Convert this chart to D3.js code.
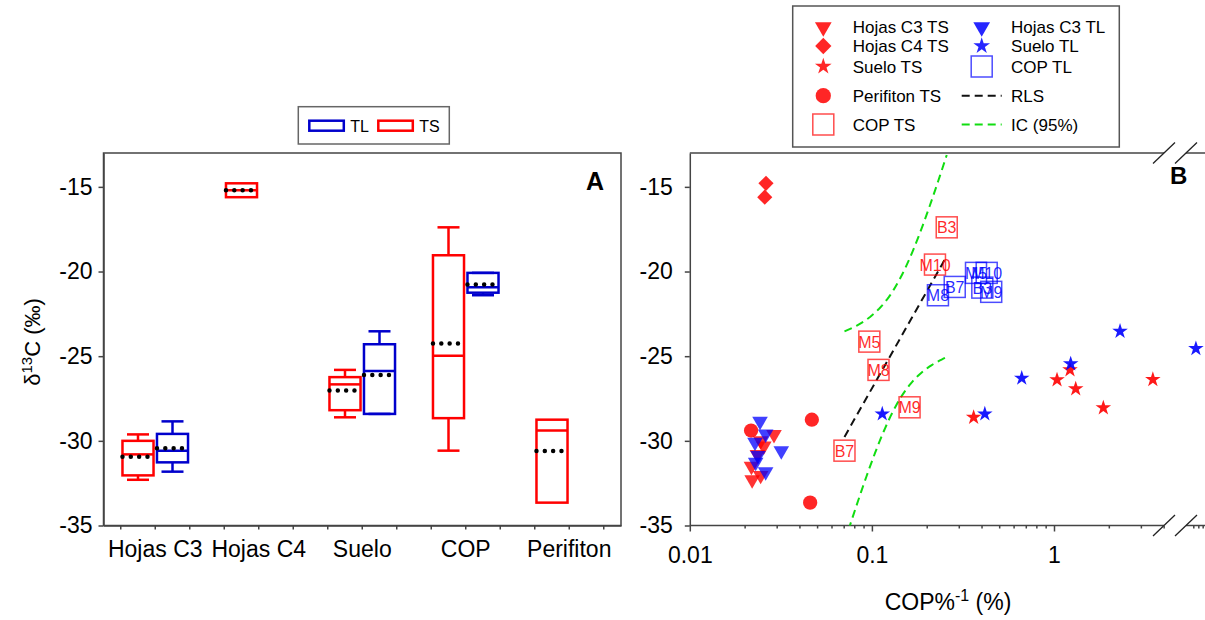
<!DOCTYPE html>
<html>
<head>
<meta charset="utf-8">
<script src="https://cdn.jsdelivr.net/npm/d3@7"></script>
<style>
body{margin:0;background:#fff;}
text{font-family:Arial,"Liberation Sans",sans-serif;}
</style>
</head>
<body>
<svg id="chart" width="1205" height="620"></svg>
<script>
// ---- data ----
var groups=["Hojas C3","Hojas C4","Suelo","COP","Perifiton"];

var hojasC3_TS_x=[0.0290,0.0245,0.0255,0.0235,0.0218,0.0245,0.0220];
var hojasC3_TS_y=[-29.62,-30.00,-30.30,-30.80,-31.50,-32.04,-32.30];
var hojasC3_TL_x=[0.0243,0.0261,0.0228,0.0318,0.0237,0.0230,0.0261];
var hojasC3_TL_y=[-28.85,-29.59,-30.09,-30.58,-30.87,-31.27,-31.82];
var hojasC4_TS_x=[0.0262,0.0258];
var hojasC4_TS_y=[-14.79,-15.61];
var suelo_TS_x=[0.362,1.039,1.224,1.316,1.866,3.49];
var suelo_TS_y=[-28.61,-26.40,-25.81,-26.93,-28.05,-26.38];
var suelo_TL_x=[0.114,0.417,0.665,1.235,2.305,65];
var suelo_TL_y=[-28.41,-28.41,-26.30,-25.45,-23.53,-24.55];
var perifiton_TS_x=[0.0217,0.0468,0.0458];
var perifiton_TS_y=[-29.39,-28.75,-33.65];
var cop_TS_labels=["B3","M10","M5","M8","M9","B7"];
var cop_TS_x=[0.2576,0.222,0.0968,0.1087,0.161,0.0707];
var cop_TS_y=[-17.39,-19.59,-24.14,-25.81,-28.02,-30.58];
var cop_TL_labels=["M5","M10","B7","M8","B3","M9"];
var cop_TL_x=[0.373,0.427,0.285,0.2305,0.404,0.452];
var cop_TL_y=[-20.08,-20.08,-20.91,-21.40,-20.95,-21.20];

var yTicks=[-35,-30,-25,-20,-15];
var xTicks=[0.01,0.1,1];
var xTicksAfterBreak=[60,70,80];
var tCrit=2.776; // t(0.975, n-2=4)

var red="#ff0000", blue="#0000ff", boxBlue="#0000cc";
var font="Arial, 'Liberation Sans', sans-serif";
var plain=function(d){ return String(d); };

var svg=d3.select("#chart");

// ---- shared y ----
var plotTop=153, plotBottom=525.5;
var y=d3.scaleLinear().domain([-35,-13]).range([plotBottom,plotTop]);

// =================== panel A ===================
var aLeft=103.5, aRight=621;
var x0=d3.scaleBand().domain(groups).range([aLeft,aRight]).padding(0);
var bw=x0.bandwidth();

var boxSeries=[
    {group:"Hojas C3",side:"TS",vals:hojasC3_TS_y},
    {group:"Hojas C3",side:"TL",vals:hojasC3_TL_y},
    {group:"Hojas C4",side:"TS",vals:hojasC4_TS_y},
    {group:"Suelo",side:"TS",vals:suelo_TS_y},
    {group:"Suelo",side:"TL",vals:suelo_TL_y},
    {group:"COP",side:"TS",vals:cop_TS_y},
    {group:"COP",side:"TL",vals:cop_TL_y},
    {group:"Perifiton",side:"TS",vals:perifiton_TS_y}
];

function pct(sorted,p){
    var n=sorted.length,pos=(n+1)*p;
    if(pos<=1) return sorted[0];
    if(pos>=n) return sorted[n-1];
    var i=Math.floor(pos),f=pos-i;
    return sorted[i-1]+f*(sorted[i]-sorted[i-1]);
}

var gA=svg.append("g");

// frame
gA.append("rect").attr("x",aLeft).attr("y",plotTop).attr("width",aRight-aLeft).attr("height",plotBottom-plotTop)
    .style("fill","none").style("stroke","#444").style("stroke-width",1.5);

// y axis
var yAxisA=gA.append("g").attr("transform","translate("+aLeft+",0)")
    .call(d3.axisLeft(y).tickValues(yTicks).tickFormat(plain).tickSize(5).tickSizeOuter(0).tickPadding(6));
// x axis
var xAxisA=gA.append("g").attr("transform","translate(0,"+plotBottom+")")
    .call(d3.axisBottom(x0).tickSize(4).tickSizeOuter(0).tickPadding(11));
[yAxisA,xAxisA].forEach(function(a){
    a.selectAll("text").style("font-size","23px").style("font-family",font).style("fill","#000");
    a.selectAll("line,path").style("stroke","#444").style("stroke-width",1.5);
});
// minor ticks either side of each group
groups.forEach(function(g){
    var c=x0(g)+bw/2;
    [c-bw/3,c+bw/3].forEach(function(t){
        gA.append("line").attr("x1",t).attr("x2",t).attr("y1",plotBottom).attr("y2",plotBottom+4)
            .style("stroke","#444").style("stroke-width",1.5);
    });
});

// boxes
var boxW=bw*0.3, capW=22;
boxSeries.forEach(function(s){
    var sorted=s.vals.slice().sort(d3.ascending);
    var n=sorted.length;
    var q1=pct(sorted,0.25), q3=pct(sorted,0.75), med=pct(sorted,0.5);
    var mean=d3.mean(sorted);
    var cx=x0(s.group)+bw/2+(s.side=="TS"?-bw/6:bw/6);
    var col=s.side=="TS"?red:boxBlue;
    var g=gA.append("g").style("stroke",col).style("stroke-width",2.5).style("fill","none");
    if(n>=5){
        var lo=pct(sorted,0.1), hi=pct(sorted,0.9);
        g.append("line").attr("x1",cx).attr("x2",cx).attr("y1",y(q3)).attr("y2",y(hi));
        g.append("line").attr("x1",cx).attr("x2",cx).attr("y1",y(q1)).attr("y2",y(lo));
        g.append("line").attr("x1",cx-capW/2).attr("x2",cx+capW/2).attr("y1",y(hi)).attr("y2",y(hi));
        g.append("line").attr("x1",cx-capW/2).attr("x2",cx+capW/2).attr("y1",y(lo)).attr("y2",y(lo));
    }
    g.append("rect").attr("x",cx-boxW/2).attr("width",boxW)
        .attr("y",y(q3)).attr("height",y(q1)-y(q3));
    g.append("line").attr("x1",cx-boxW/2).attr("x2",cx+boxW/2).attr("y1",y(med)).attr("y2",y(med));
    // mean: dotted black
    gA.append("line").attr("x1",cx-boxW/2).attr("x2",cx-boxW/2+25)
        .attr("y1",y(mean)).attr("y2",y(mean))
        .style("stroke","#000").style("stroke-width",4.5).style("stroke-linecap","round")
        .style("stroke-dasharray","0,8.33");
});

gA.append("text").attr("x",586).attr("y",190).text("A")
    .style("font-size","25px").style("font-weight","bold");

// legend A
var legA=gA.append("g");
legA.append("rect").attr("x",298.3).attr("y",106.7).attr("width",151).attr("height",37.3)
    .style("fill","#fff").style("stroke","#666").style("stroke-width",1.5);
[{label:"TL",col:boxBlue,x:309.3},{label:"TS",col:red,x:378.3}].forEach(function(d){
    legA.append("rect").attr("x",d.x).attr("y",120.7).attr("width",34.5).attr("height",10)
        .style("fill","none").style("stroke",d.col).style("stroke-width",2.5);
    legA.append("text").attr("x",d.x+41).attr("y",131.5).text(d.label).style("font-size","16px");
});

// y title
svg.append("text").attr("transform","translate(40,342) rotate(-90)").attr("text-anchor","middle")
    .style("font-size","22px")
    .call(function(t){
        t.append("tspan").text("\u03b4");
        t.append("tspan").text("13").style("font-size","15px").attr("dy",-8);
        t.append("tspan").text("C (\u2030)").attr("dy",8);
    });

// =================== panel B ===================
var bLeft=689.8, bRight=1205;
var breakL=1164, breakR=1186;
var xs1=d3.scaleLog().domain([0.01,1]).range([bLeft,1054]);
var xs2=d3.scaleLog().domain([60,100]).range([1193.3,1193.3+75*Math.log10(100/60)]);
function xB(v){ return v<10?xs1(v):xs2(v); }

var gB=svg.append("g");
gB.append("clipPath").attr("id","clipB").append("rect")
    .attr("x",bLeft).attr("y",plotTop).attr("width",bRight-bLeft).attr("height",plotBottom-plotTop);

// frame lines with break
[plotTop,plotBottom].forEach(function(yy){
    gB.append("line").attr("x1",bLeft).attr("x2",breakL).attr("y1",yy).attr("y2",yy)
        .style("stroke","#444").style("stroke-width",1.5);
    gB.append("line").attr("x1",breakR).attr("x2",bRight).attr("y1",yy).attr("y2",yy)
        .style("stroke","#444").style("stroke-width",1.5);
    [breakL,breakR].forEach(function(bx){
        gB.append("line").attr("x1",bx-11).attr("x2",bx+11).attr("y1",yy+10.5).attr("y2",yy-10.5)
            .style("stroke","#222").style("stroke-width",1.3);
    });
});

var yAxisB=gB.append("g").attr("transform","translate("+bLeft+",0)")
    .call(d3.axisLeft(y).tickValues(yTicks).tickFormat(plain).tickSize(5).tickSizeOuter(0).tickPadding(12));
var minorTicks=[];
[-2,-1,0].forEach(function(e){
    for(var k=2;k<=9;k++){ var v=k*Math.pow(10,e); if(xs1(v)<=breakL) minorTicks.push(v); }
});
var xAxisB=gB.append("g").attr("transform","translate(0,"+plotBottom+")")
    .call(d3.axisBottom(xs1).tickValues(xTicks).tickSize(6).tickPadding(15).tickFormat(plain));
var xMinorB=gB.append("g").attr("transform","translate(0,"+plotBottom+")")
    .call(d3.axisBottom(xs1).tickValues(minorTicks).tickSize(3).tickFormat(""));
var xMinorB2=gB.append("g").attr("transform","translate(0,"+plotBottom+")")
    .call(d3.axisBottom(xs2).tickValues(xTicksAfterBreak).tickSize(3).tickFormat(""));
[xAxisB,xMinorB,xMinorB2].forEach(function(a){ a.select(".domain").remove(); });
[yAxisB,xAxisB,xMinorB,xMinorB2].forEach(function(a){
    a.selectAll("text").style("font-size","23px").style("font-family",font).style("fill","#000");
    a.selectAll("line,path").style("stroke","#444").style("stroke-width",1.5);
});

// regression (RLS) and 95% CI from COP TS
var lx=cop_TS_x.map(function(v){return Math.log10(v);});
var n=lx.length, mx=d3.mean(lx), my=d3.mean(cop_TS_y);
var sxx=d3.sum(lx,function(v){return (v-mx)*(v-mx);});
var sxy=d3.sum(lx,function(v,i){return (v-mx)*(cop_TS_y[i]-my);});
var slope=sxy/sxx, icpt=my-slope*mx;
var sres=Math.sqrt(d3.sum(lx,function(v,i){var r=cop_TS_y[i]-(icpt+slope*v);return r*r;})/(n-2));
var lmin=d3.min(lx), lmax=d3.max(lx);
var fitPts=d3.range(0,61).map(function(i){
    var l=lmin+(lmax-lmin)*i/60;
    var yh=icpt+slope*l;
    var hw=tCrit*sres*Math.sqrt(1/n+(l-mx)*(l-mx)/sxx);
    return {x:Math.pow(10,l),fit:yh,lo:yh-hw,hi:yh+hw};
});
var plot=gB.append("g").attr("clip-path","url(#clipB)");
function lineOf(key){ return d3.line().x(function(d){return xB(d.x);}).y(function(d){return y(d[key]);}); }
["hi","lo"].forEach(function(k){
    plot.append("path").datum(fitPts).attr("d",lineOf(k))
        .style("fill","none").style("stroke","#11dd11").style("stroke-width",2).style("stroke-dasharray","8,5");
});
plot.append("path").datum([fitPts[0],fitPts[60]]).attr("d",lineOf("fit"))
    .style("fill","none").style("stroke","#111").style("stroke-width",2).style("stroke-dasharray","8,5");

// markers
var sym={
    tri:{type:d3.symbolTriangle,size:105,rot:180},
    diamond:{type:d3.symbolSquare,size:115,rot:45},
    star:{type:d3.symbolStar,size:75,rot:0},
    circle:{type:d3.symbolCircle,size:160,rot:0}
};
function drawPoints(xs,ys,kind,col,op){
    var s=sym[kind];
    plot.selectAll(null).data(xs).enter().append("path")
        .attr("d",d3.symbol().type(s.type).size(s.size))
        .attr("transform",function(d,i){return "translate("+xB(d)+","+y(ys[i])+") rotate("+s.rot+")";})
        .style("fill",col).style("fill-opacity",op).style("stroke","none");
}
function drawSquares(xs,ys,labels,col){
    var g=plot.selectAll(null).data(xs).enter().append("g")
        .attr("transform",function(d,i){return "translate("+xB(d)+","+y(ys[i])+")";});
    g.append("rect").attr("x",-10.5).attr("y",-10.5).attr("width",21).attr("height",21)
        .style("fill","none").style("stroke",col).style("stroke-opacity",0.7).style("stroke-width",1.5);
    g.append("text").attr("text-anchor","middle").attr("y",6).text(function(d,i){return labels[i];})
        .style("font-size","16px").style("fill",col).style("fill-opacity",0.85);
}
drawPoints(perifiton_TS_x,perifiton_TS_y,"circle",red,0.85);
drawPoints(hojasC3_TS_x,hojasC3_TS_y,"tri",red,0.8);
drawPoints(hojasC3_TL_x,hojasC3_TL_y,"tri",blue,0.75);
drawPoints(hojasC4_TS_x,hojasC4_TS_y,"diamond",red,0.85);
drawPoints(suelo_TS_x,suelo_TS_y,"star",red,0.9);
drawPoints(suelo_TL_x,suelo_TL_y,"star",blue,0.9);
drawSquares(cop_TS_x,cop_TS_y,cop_TS_labels,red);
drawSquares(cop_TL_x,cop_TL_y,cop_TL_labels,blue);

gB.append("text").attr("x",1170).attr("y",184).text("B")
    .style("font-size","24px").style("font-weight","bold");

// x title
svg.append("text").attr("x",948).attr("y",610).attr("text-anchor","middle").style("font-size","23px")
    .call(function(t){
        t.append("tspan").text("COP%");
        t.append("tspan").text("-1").style("font-size","16px").attr("dy",-9);
        t.append("tspan").text(" (%)").attr("dy",9);
    });

// legend B
var legB=svg.append("g");
legB.append("rect").attr("x",792.7).attr("y",6).attr("width",326.6).attr("height",141)
    .style("fill","#fff").style("stroke","#555").style("stroke-width",1.5);
var legItems=[
    {kind:"tri",col:red,label:"Hojas C3 TS",x:823.3,y:27},
    {kind:"diamond",col:red,label:"Hojas C4 TS",x:823.3,y:46},
    {kind:"star",col:red,label:"Suelo TS",x:823.3,y:66.5},
    {kind:"circle",col:red,label:"Perifiton TS",x:823.3,y:95.7},
    {kind:"square",col:red,label:"COP TS",x:823.3,y:124.5},
    {kind:"tri",col:blue,label:"Hojas C3 TL",x:981.7,y:27},
    {kind:"star",col:blue,label:"Suelo TL",x:981.7,y:46},
    {kind:"square",col:blue,label:"COP TL",x:981.7,y:66.5},
    {kind:"line",col:"#111",label:"RLS",x:981.7,y:95.7},
    {kind:"line",col:"#11dd11",label:"IC (95%)",x:981.7,y:124.5}
];
legItems.forEach(function(d){
    if(d.kind=="square"){
        legB.append("rect").attr("x",d.x-10.5).attr("y",d.y-10.5).attr("width",21).attr("height",21)
            .style("fill","none").style("stroke",d.col).style("stroke-opacity",0.7).style("stroke-width",1.5);
    } else if(d.kind=="line"){
        legB.append("line").attr("x1",d.x-20).attr("x2",d.x+20).attr("y1",d.y).attr("y2",d.y)
            .style("stroke",d.col).style("stroke-width",2).style("stroke-dasharray","8,5");
    } else {
        var s=sym[d.kind];
        legB.append("path").attr("d",d3.symbol().type(s.type).size(s.size*1.15))
            .attr("transform","translate("+d.x+","+d.y+") rotate("+s.rot+")")
            .style("fill",d.col).style("fill-opacity",0.85);
    }
    legB.append("text").attr("x",d.x+29.4).attr("y",d.y+6).text(d.label).style("font-size","17px");
});
</script>
</body>
</html>
